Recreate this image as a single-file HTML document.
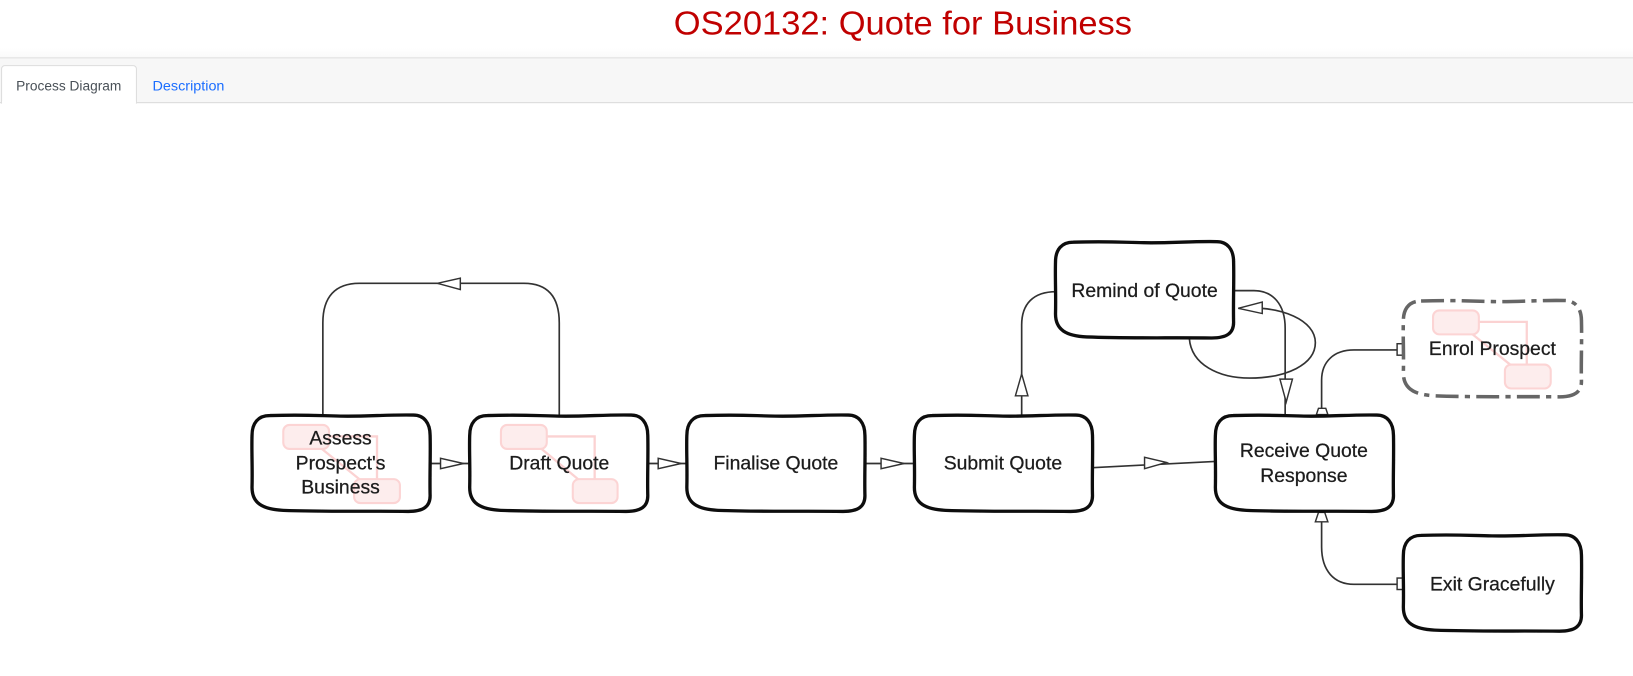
<!DOCTYPE html>
<html>
<head>
<meta charset="utf-8">
<style>
html,body{margin:0;padding:0;background:#fff;width:1633px;height:676px;overflow:hidden}
svg{display:block;position:absolute;left:0;top:0}
text{font-family:"Liberation Sans",sans-serif}
.box{fill:#fff;stroke:#111;stroke-width:3.2}
.dash{fill:#fff;stroke:#666;stroke-width:3.4;stroke-dasharray:22 6 5 6}
.line{fill:none;stroke:#333;stroke-width:1.6}
.arrow{fill:#fff;stroke:#333;stroke-width:1.4}
.mini{fill:#fdeded;stroke:#fcd4d4;stroke-width:2}
.miniline{fill:none;stroke:#fbd2d2;stroke-width:2.200}
.label{font-size:18.600px;fill:#1c1c1c;text-anchor:middle;stroke:#1c1c1c;stroke-width:.25}
</style>
</head>
<body>
<svg width="1633" height="676" viewBox="0 0 1568 649" xmlns="http://www.w3.org/2000/svg">
  <defs>
    <linearGradient id="g" x1="0" y1="0" x2="0" y2="1"><stop offset="0" stop-color="#fff"/><stop offset="1" stop-color="#fafafa"/></linearGradient>
    <filter id="soft" x="-2%" y="-2%" width="104%" height="104%"><feGaussianBlur stdDeviation="0.35"/></filter>
    <path id="b" d="M17 1C50 0 60 1 85 1.500C110 2 130 0 155 0.500C165 0.500 171 8 171 20C171.500 40 170.500 60 171 78C171 88 165 93 150 93C110 92.500 70 93.500 30 92C10 91 0 85 0 70C0.500 50 -0.500 35 0 20C0 8 6 1 17 1Z"/>
  </defs>
  <!-- Header -->
  <text x="867" y="33" font-size="32" fill="#c00000" text-anchor="middle" textLength="440" lengthAdjust="spacingAndGlyphs">OS20132: Quote for Business</text>
  <rect x="0" y="46" width="1568" height="9" fill="url(#g)"/>
  <rect x="0" y="55" width="1568" height="44" fill="#f7f7f7"/>
  <rect x="0" y="55" width="1568" height="1" fill="#e0e0e0"/>
  <rect x="0" y="98" width="1568" height="1" fill="#dcdcdc"/>
  <path d="M1.500 99V66a3 3 0 0 1 3-3H128a3 3 0 0 1 3 3V99Z" fill="#fff" stroke="#dddddd"/>
  <rect x="2" y="97" width="128.500" height="3" fill="#fff"/>
  <text x="66" y="87" font-size="13.300" fill="#495057" text-anchor="middle" textLength="101" lengthAdjust="spacingAndGlyphs">Process Diagram</text>
  <text x="181" y="87" font-size="13.300" fill="#1a6dff" text-anchor="middle" textLength="69" lengthAdjust="spacingAndGlyphs">Description</text>

  <g filter="url(#soft)">
  <!-- Connectors -->
  <path class="line" d="M310 398V310C310 285 322 272 345 272H503C526 272 537 285 537 310V398"/>
  <path class="arrow" d="M420 272L442 267V278Z"/>
  <path class="line" d="M414 445H451"/>
  <path class="arrow" d="M445 445L423 440V450Z"/>
  <path class="line" d="M622 445H659"/>
  <path class="arrow" d="M654 445L632 440V450Z"/>
  <path class="line" d="M831 445H878"/>
  <path class="arrow" d="M868 445L846 440V450Z"/>
  <path class="line" d="M1049 449L1167 443"/>
  <path class="arrow" d="M1120 444L1099 439V450Z"/>
  <path class="line" d="M981 398V312C981 292 992 280 1014 280"/>
  <path class="arrow" d="M981 359L975 380H987Z"/>
  <path class="line" d="M1184 279H1204C1222 279 1234 292 1234 315V398"/>
  <path class="arrow" d="M1235 386L1229 364H1241Z"/>
  <path class="line" d="M1142 325C1144 350 1170 363 1200 363C1235 363 1263 350 1263 329C1263 308 1232 293 1189 296"/>
  <path class="arrow" d="M1189 296L1212 290V301Z"/>
  <path class="line" d="M1269 398V365C1269 347 1281 336 1300 336H1347"/>
  <rect class="arrow" x="1341.500" y="330" width="6" height="11"/>
  <path class="arrow" d="M1266 392H1273L1275 398H1264Z"/>
  <path class="line" d="M1269 498V525C1269 548 1281 561 1300 561H1347"/>
  <path class="arrow" d="M1266 492H1272L1275 501H1263Z"/>
  <rect class="arrow" x="1341.500" y="555" width="6" height="11"/>

  <!-- Nodes -->
  <use href="#b" class="box" x="242" y="398"/>
  <use href="#b" class="box" x="451" y="398"/>
  <use href="#b" class="box" x="659.500" y="398"/>
  <use href="#b" class="box" x="878" y="398"/>
  <use href="#b" class="box" x="1167" y="398"/>
  <use href="#b" class="box" x="1013.500" y="231.500"/>
  <use href="#b" class="dash" x="1347.500" y="288"/>
  <use href="#b" class="box" x="1347.500" y="513"/>

  <!-- Mini sub-process icons -->
  <g>
    <path class="miniline" d="M316 419H362V460M309 431L345 460"/>
    <rect class="mini" x="272" y="408" width="44" height="23" rx="6"/>
    <rect class="mini" x="340" y="460" width="44" height="23" rx="6"/>
  </g>
  <g>
    <path class="miniline" d="M525 419H571V460M520 431L555 460"/>
    <rect class="mini" x="481" y="408" width="44" height="23" rx="6"/>
    <rect class="mini" x="550" y="460" width="43" height="23" rx="6"/>
  </g>
  <g>
    <path class="miniline" d="M1420 309H1466V350M1414 321L1450 350"/>
    <rect class="mini" x="1376" y="298" width="44" height="23" rx="6"/>
    <rect class="mini" x="1445" y="350" width="44" height="23" rx="6"/>
  </g>

  <!-- Labels -->
  <text class="label" x="327" y="427">Assess</text>
  <text class="label" x="327" y="451">Prospect's</text>
  <text class="label" x="327" y="474">Business</text>
  <text class="label" x="537" y="451">Draft Quote</text>
  <text class="label" x="745" y="451">Finalise Quote</text>
  <text class="label" x="963" y="451">Submit Quote</text>
  <text class="label" x="1252" y="439">Receive Quote</text>
  <text class="label" x="1252" y="463">Response</text>
  <text class="label" x="1099" y="285">Remind of Quote</text>
  <text class="label" x="1433" y="341">Enrol Prospect</text>
  <text class="label" x="1433" y="567">Exit Gracefully</text>
  </g>
</svg>
</body>
</html>
